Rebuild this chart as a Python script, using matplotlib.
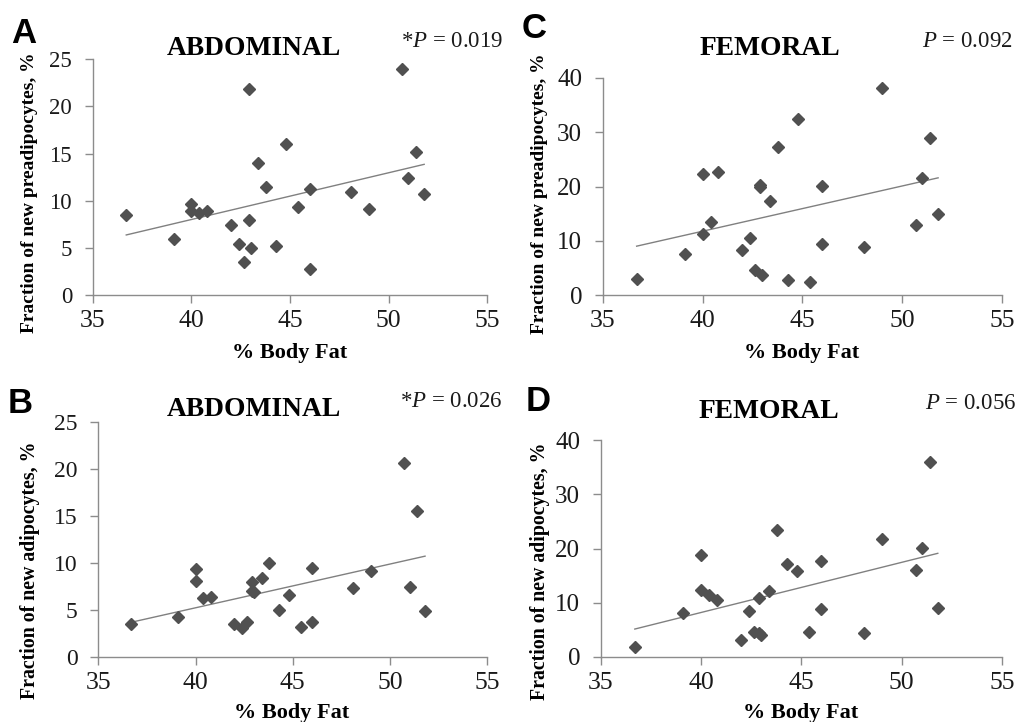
import numpy as np
import matplotlib
matplotlib.use("Agg")
import matplotlib.pyplot as plt

plt.rcParams['font.family'] = ['Liberation Serif', 'DejaVu Serif']
plt.rcParams['mathtext.fontset'] = 'custom'
plt.rcParams['mathtext.rm'] = 'Liberation Serif'
plt.rcParams['mathtext.it'] = 'Liberation Serif:italic'

# % body fat per subject (shared by all four panels)
body_fat = [36.7, 39.1, 40.0, 40.0, 40.4, 40.8, 42.0, 42.4, 42.65, 42.9, 42.9, 43.0, 43.4,
            43.8, 44.3, 44.8, 45.4, 46.0, 46.0, 48.1, 49.0, 50.7, 51.0, 51.4, 51.8]

# A: abdominal, new preadipocytes
abd_pre = [8.55, 5.93, 9.68, 8.97, 8.69, 8.9, 7.42, 5.47, 3.5, 21.86, 7.94, 5.01, 14.02,
           11.48, 5.26, 16.03, 9.32, 11.23, 2.82, 10.91, 9.18, 23.98, 12.39, 15.15, 10.77]
# B: abdominal, new adipocytes
abd_adi = [3.55, 4.26, 9.34, 8.06, 6.25, 6.43, 3.52, 3.13, 3.69, 7.95, 7.05, 6.9, 8.42,
           10.0, 4.97, 6.6, 3.23, 9.52, 3.76, 7.32, 9.13, 20.67, 7.46, 15.55, 4.87]
# C: femoral, new preadipocytes
fem_pre = [2.89, 7.56, 22.3, 11.24, 13.39, 22.73, 8.36, 10.45, 4.61, 20.22, 19.85, 3.69, 17.27,
           27.28, 2.7, 32.44, 2.46, 20.09, 9.46, 8.85, 38.22, 12.84, 21.5, 29.0, 14.99]
# D: femoral, new adipocytes
fem_adi = [1.73, 8.07, 18.8, 12.39, 11.34, 10.48, 3.08, 8.44, 4.5, 10.8, 4.3, 4.1, 12.2,
           23.48, 17.07, 15.78, 4.62, 17.69, 8.75, 4.44, 21.7, 16.09, 20.09, 36.0, 8.94]

W, H = 1020, 722
fig = plt.figure(figsize=(W / 100, H / 100), dpi=100)


def px(x, y):
    # pixel position -> figure fraction
    return x / W, 1 - y / H


def panel(rect, yvals, ymax, ystep, letter, title, ptext, ylabel, geo, ytick_size, ylab_size):
    left, top, right, bottom = rect
    ax = fig.add_axes([left / W, 1 - bottom / H, (right - left) / W, (bottom - top) / H])
    x = np.array(body_fat)
    y = np.array(yvals)
    ax.plot(x, y, linestyle='None', marker='D', markersize=6, color='#505050', zorder=3)
    k, b = np.polyfit(x, y, 1)
    xx = np.array([x.min(), x.max()])
    ax.plot(xx, k * xx + b, color='#808080', lw=1)
    ax.set_xlim(35, 55)
    ax.set_ylim(0, ymax)
    ax.set_xticks(range(35, 56, 5))
    ax.set_yticks(range(0, ymax + 1, ystep))
    for s in ['top', 'right']:
        ax.spines[s].set_visible(False)
    for s in ['left', 'bottom']:
        ax.spines[s].set_color('#8c8c8c')
        ax.spines[s].set_linewidth(1)
        ax.spines[s].set_clip_on(False)
    ax.tick_params(axis='both', colors='#8c8c8c', length=5.8, width=1, labelcolor='#1a1a1a')
    ax.tick_params(axis='x', labelsize=18.5, pad=5)
    ax.tick_params(axis='y', labelsize=ytick_size, pad=9)
    ax.patch.set_alpha(0)

    lx, ly, tx, ty, prx, pry, ylx, yly, xlx, xly = geo
    fig.text(*px(lx, ly), letter, family='Liberation Sans', weight='bold', fontsize=25,
             ha='left', va='baseline')
    fig.text(*px(tx, ty), title, weight='bold', fontsize=19.8, ha='center', va='baseline')
    fig.text(*px(prx, pry), ptext, fontsize=16.5, ha='right', va='baseline', color='#1a1a1a')
    fig.text(*px(ylx, yly), ylabel, weight='bold', fontsize=ylab_size, rotation=90,
             ha='center', va='center')
    fig.text(*px(xlx, xly), '% Body Fat', weight='bold', fontsize=16, ha='center',
             va='baseline')
    return ax


panel((92.7, 59.3, 487.3, 295.3), abd_pre, 25, 5, 'A', 'ABDOMINAL', r'*$P$ = 0.019',
      'Fraction of new preadipocytes, %',
      (11, 43, 254, 55, 503, 47, 30, 193, 290, 358), 16.5, 14)
panel((602.7, 78, 1002, 295), fem_pre, 40, 10, 'C', 'FEMORAL', r'$P$ = 0.092',
      'Fraction of new preadipocytes, %',
      (522, 38, 770, 55, 1013, 47, 540, 194, 802, 358), 18, 14)
panel((98.3, 422.3, 487.3, 657), abd_adi, 25, 5, 'B', 'ABDOMINAL', r'*$P$ = 0.026',
      'Fraction of new adipocytes, %',
      (8, 413, 254, 416, 503, 407, 30, 570, 292, 718), 17, 14.3)
panel((600.7, 440.3, 1002, 656.7), fem_adi, 40, 10, 'D', 'FEMORAL', r'$P$ = 0.056',
      'Fraction of new adipocytes, %',
      (526, 411, 769, 418, 1016, 409, 540, 571, 801, 718), 18, 14.3)

fig.savefig('out.png', dpi=100)
